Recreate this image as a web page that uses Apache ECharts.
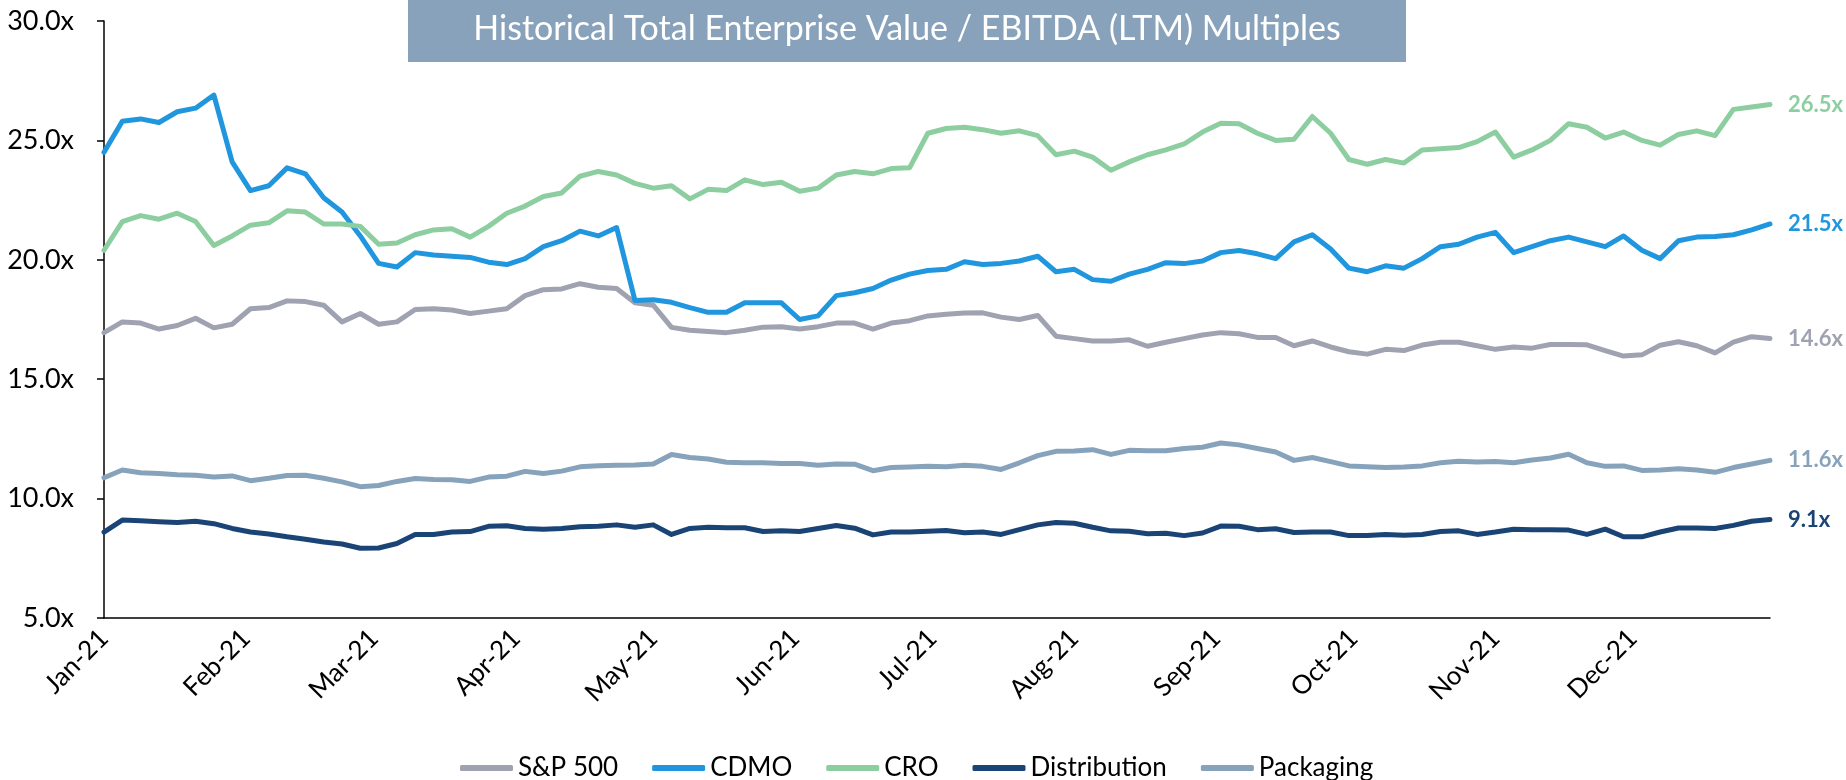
<!DOCTYPE html>
<html lang="en">
  <head>
    <meta charset="UTF-8" />
    <title>Historical TEV / EBITDA Multiples</title>
    <style>
      html,
      body {
        margin: 0;
        padding: 0;
        background: #fff;
      }
      #chart {
        width: 1846px;
        height: 780px;
      }
    </style>
  </head>
  <body>
    <div id="chart"></div>
    <script src="https://cdn.jsdelivr.net/npm/echarts@6/dist/echarts.min.js"></script>
    <script>
      // one point every 4 calendar days, Jan 1 2021 .. Dec 31 2021
      const startDate = new Date(2021, 0, 1);
      const dayStep = 4;
      const monthLabels = ["Jan-21", "Feb-21", "Mar-21", "Apr-21", "May-21", "Jun-21",
        "Jul-21", "Aug-21", "Sep-21", "Oct-21", "Nov-21", "Dec-21"];

      const seriesNames = ["S&P 500", "CDMO", "CRO", "Distribution", "Packaging"];
      const seriesColors = ["#9FA2B0", "#1F96DD", "#8DCEA0", "#1A4476", "#87A3BC"];
      const endLabels = ["14.6x", "21.5x", "26.5x", "9.1x", "11.6x"];

      const sp500 = [
        16.95, 17.4, 17.35, 17.1, 17.25, 17.55, 17.15, 17.3, 17.95, 18.0, 18.28, 18.25, 18.1, 17.4, 17.75, 17.3, 17.4, 17.92,
        17.95, 17.9, 17.75, 17.85, 17.95, 18.5, 18.75, 18.78, 19.0, 18.85, 18.8, 18.2, 18.1, 17.17, 17.05, 17.0, 16.95,
        17.05, 17.18, 17.2, 17.1, 17.2, 17.35, 17.35, 17.1, 17.35, 17.45, 17.65, 17.72, 17.77, 17.78, 17.6, 17.5, 17.67, 16.8,
        16.7, 16.6, 16.6, 16.65, 16.38, 16.55, 16.7, 16.85, 16.95, 16.9, 16.75, 16.75, 16.4, 16.6, 16.35, 16.15, 16.05,
        16.25, 16.2, 16.43, 16.55, 16.55, 16.4, 16.25, 16.35, 16.3, 16.45, 16.45, 16.44, 16.2, 15.97, 16.02, 16.42, 16.57, 16.4,
        16.1, 16.55, 16.78, 16.7
      ];
      const cdmo = [
        24.5, 25.8, 25.9, 25.75, 26.2, 26.35, 26.9, 24.1, 22.9, 23.1, 23.85, 23.6, 22.6, 22.0, 21.0, 19.85, 19.7, 20.3,
        20.2, 20.15, 20.1, 19.9, 19.8, 20.05, 20.55, 20.8, 21.2, 21.0, 21.35, 18.3, 18.33, 18.22, 18.0, 17.8, 17.8,
        18.2, 18.2, 18.2, 17.5, 17.65, 18.5, 18.62, 18.8, 19.15, 19.4, 19.55, 19.6, 19.92, 19.8, 19.85, 19.95, 20.15, 19.5,
        19.6, 19.17, 19.1, 19.4, 19.6, 19.88, 19.84, 19.95, 20.3, 20.39, 20.25, 20.05, 20.75, 21.05, 20.45, 19.65, 19.5,
        19.75, 19.65, 20.05, 20.55, 20.65, 20.95, 21.15, 20.3, 20.55, 20.8, 20.95, 20.75, 20.55, 21.0, 20.4, 20.05, 20.8, 20.95,
        20.98, 21.05, 21.25, 21.5
      ];
      const cro = [
        20.4, 21.6, 21.85, 21.7, 21.95, 21.6, 20.6, 21.0, 21.45, 21.55, 22.05, 22.0, 21.5, 21.5, 21.4, 20.65, 20.7, 21.05,
        21.25, 21.3, 20.95, 21.4, 21.95, 22.25, 22.65, 22.8, 23.5, 23.7, 23.55, 23.2, 23.0, 23.1, 22.55, 22.95, 22.9,
        23.35, 23.15, 23.25, 22.87, 23.0, 23.55, 23.7, 23.6, 23.82, 23.85, 25.3, 25.5, 25.55, 25.45, 25.3, 25.4, 25.2, 24.4,
        24.55, 24.3, 23.75, 24.1, 24.4, 24.6, 24.85, 25.35, 25.72, 25.7, 25.3, 25.0, 25.05, 26.0, 25.3, 24.2, 24.0,
        24.2, 24.05, 24.6, 24.65, 24.7, 24.95, 25.35, 24.3, 24.6, 25.0, 25.7, 25.55, 25.1, 25.35, 25.0, 24.8, 25.25, 25.4,
        25.2, 26.3, 26.4, 26.5
      ];
      const distribution = [
        8.6, 9.1, 9.07, 9.03, 9.0, 9.05, 8.95, 8.75, 8.6, 8.52, 8.4, 8.3, 8.18, 8.1, 7.92, 7.93, 8.12, 8.5,
        8.5, 8.6, 8.62, 8.84, 8.86, 8.75, 8.72, 8.75, 8.82, 8.84, 8.9, 8.8, 8.9, 8.5, 8.75, 8.8, 8.78,
        8.78, 8.62, 8.65, 8.62, 8.75, 8.87, 8.76, 8.48, 8.6, 8.6, 8.63, 8.66, 8.57, 8.6, 8.5, 8.7, 8.9, 9.0,
        8.97, 8.8, 8.65, 8.63, 8.53, 8.55, 8.45, 8.56, 8.85, 8.84, 8.7, 8.74, 8.58, 8.6, 8.6, 8.45, 8.45,
        8.5, 8.47, 8.5, 8.62, 8.65, 8.5, 8.6, 8.72, 8.7, 8.7, 8.68, 8.5, 8.72, 8.4, 8.4, 8.6, 8.77, 8.77,
        8.75, 8.88, 9.05, 9.12
      ];
      const packaging = [
        10.87, 11.2, 11.08, 11.05, 11.0, 10.98, 10.9, 10.95, 10.75, 10.85, 10.97, 10.98, 10.85, 10.7, 10.5, 10.55, 10.72, 10.84,
        10.8, 10.79, 10.72, 10.9, 10.94, 11.14, 11.05, 11.15, 11.33, 11.38, 11.4, 11.41, 11.45, 11.85, 11.72, 11.66, 11.52,
        11.5, 11.5, 11.47, 11.47, 11.4, 11.45, 11.44, 11.17, 11.3, 11.32, 11.35, 11.33, 11.4, 11.35, 11.22, 11.5, 11.8, 11.98,
        11.99, 12.05, 11.85, 12.02, 12.0, 12.0, 12.1, 12.15, 12.33, 12.25, 12.1, 11.95, 11.6, 11.72, 11.55, 11.37, 11.33,
        11.3, 11.32, 11.37, 11.5, 11.56, 11.53, 11.55, 11.5, 11.62, 11.7, 11.86, 11.5, 11.35, 11.37, 11.18, 11.2, 11.25, 11.2,
        11.1, 11.3, 11.45, 11.6
      ];
      const allValues = [sp500, cdmo, cro, distribution, packaging];

      const titleText = "Historical Total Enterprise Value / EBITDA (LTM) Multiples";
      const font = "Lato, 'Open Sans', sans-serif";

      const dates = sp500.map((v, i) => {
        const d = new Date(startDate);
        d.setDate(d.getDate() + i * dayStep);
        return d.getTime();
      });

      const chart = echarts.init(document.getElementById("chart"));
      const option = {
        animation: false,
        textStyle: { fontFamily: font },
        grid: { left: 104, right: 76, top: 21, bottom: 162 },
        graphic: [
          {
            type: "rect",
            shape: { x: 408, y: 0, width: 998, height: 62 },
            style: { fill: "#87A2BA" },
          },
          {
            type: "text",
            x: 907,
            y: 29,
            style: {
              text: titleText,
              fill: "#fff",
              fontSize: 34,
              fontFamily: font,
              align: "center",
              verticalAlign: "middle",
            },
          },
        ],
        legend: {
          data: seriesNames,
          left: 455,
          top: 750,
          icon: "roundRect",
          itemWidth: 53,
          itemHeight: 6,
          itemGap: 34,
          textStyle: { fontSize: 26, color: "#000", fontFamily: font },
        },
        xAxis: {
          type: "time",
          min: new Date(2021, 0, 1).getTime(),
          max: new Date(2021, 11, 31).getTime(),
          minInterval: 28 * 86400000,
          maxInterval: 31 * 86400000,
          axisLine: { lineStyle: { color: "#000", width: 1.5 } },
          axisTick: { show: false },
          splitLine: { show: false },
          axisLabel: {
            rotate: 45,
            fontSize: 26,
            color: "#000",
            fontFamily: font,
            margin: 16,
            showMaxLabel: false,
            formatter: (v) => monthLabels[new Date(v).getMonth()],
          },
        },
        yAxis: {
          type: "value",
          min: 5,
          max: 30,
          interval: 5,
          axisLine: { show: true, lineStyle: { color: "#000", width: 1.5 } },
          axisTick: { show: true, length: 7, lineStyle: { color: "#000", width: 1.5 } },
          splitLine: { show: false },
          axisLabel: {
            fontSize: 27,
            color: "#000",
            fontFamily: font,
            margin: 30,
            formatter: (v) => v.toFixed(1) + "x",
          },
        },
        series: seriesNames.map((name, i) => ({
          name: name,
          type: "line",
          data: dates.map((d, j) => [d, allValues[i][j]]),
          showSymbol: false,
          symbol: "none",
          color: seriesColors[i],
          lineStyle: { width: 5, color: seriesColors[i], cap: "round", join: "round" },
          emphasis: { disabled: true },
          endLabel: {
            show: true,
            formatter: endLabels[i],
            color: seriesColors[i],
            fontSize: 22,
            fontWeight: "bold",
            fontFamily: font,
            distance: 18,
          },
        })),
      };
      chart.setOption(option);
    </script>
  </body>
</html>
